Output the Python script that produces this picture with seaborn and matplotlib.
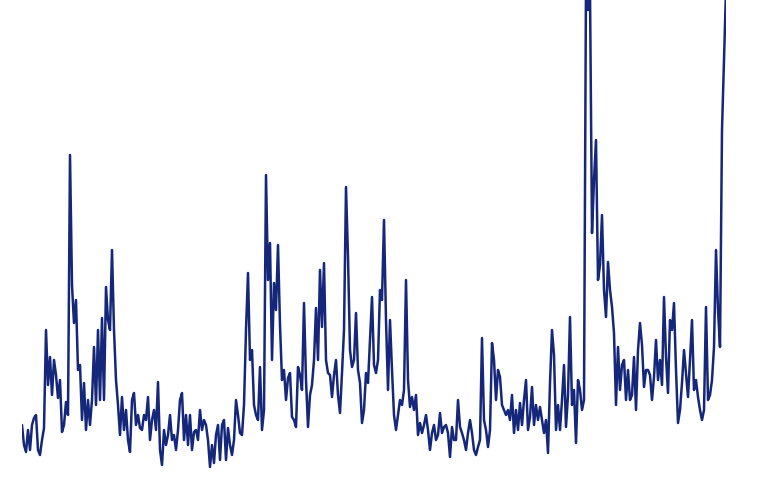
import pandas as pd
import matplotlib
matplotlib.use("Agg")
import matplotlib.pyplot as plt
import seaborn as sns

sns.set_style("white")

# weekly index level left to right
seg1 = [14.2, 12.2, 11.5, 13.7, 11.7, 14.2, 14.9, 15.2, 11.7, 11.2,
        12.7, 13.9, 23.7, 18.2, 21.0, 17.2, 20.7, 19.2, 16.9, 18.7,
        13.5, 14.2, 16.5, 15.2, 41.2, 28.2, 24.4, 26.7, 19.7, 20.2,
        14.7, 18.4, 13.7, 16.7, 14.2, 16.7, 22.0, 16.2, 23.7, 16.7,
        24.9, 16.7, 28.0, 24.7, 23.7, 31.7, 23.7, 18.7, 16.2, 13.2,
        17.0, 13.7, 15.7, 12.7, 11.5, 16.7, 17.4, 14.2, 15.2, 13.9]
seg2 = [13.7, 15.2, 14.7, 17.0, 12.7, 14.7, 15.7, 13.7, 18.5, 11.7,
        10.2, 13.7, 12.2, 13.2, 15.2, 12.7, 13.2, 11.7, 13.7, 16.7,
        17.4, 12.7, 15.2, 12.2, 15.2, 11.7, 13.5, 13.7, 12.7, 15.7,
        13.7, 14.7, 14.2, 12.7, 10.0, 12.2, 10.4, 13.2, 14.2, 10.7,
        14.2, 14.7, 10.7, 13.9, 12.2, 11.2, 12.7, 16.7, 15.2, 13.4,
        13.2, 16.2, 23.7, 29.4, 20.7, 21.7, 16.2]
seg3 = [15.2, 14.7, 20.0, 13.7, 15.7, 39.2, 28.7, 32.4, 20.7, 28.4,
        25.7, 32.2, 24.2, 18.7, 19.7, 16.7, 18.9, 19.4, 15.0, 14.7,
        14.0, 20.0, 19.2, 17.7, 26.4, 18.7, 14.0, 17.2, 18.2, 20.7,
        25.9, 20.7, 29.7, 24.0, 30.4, 20.7, 19.4, 19.2, 17.0, 19.2,
        20.7, 17.2, 15.4, 19.4, 23.7, 38.0, 31.0, 21.7, 20.0, 20.7,
        25.4, 19.7, 18.4, 14.4, 15.7, 19.4, 18.4, 22.7, 27.0, 20.2,
        19.4, 20.7]
seg4 = [27.7, 26.7, 34.7, 24.7, 17.7, 24.7, 19.7, 15.2, 13.7, 15.2,
        16.7, 16.2, 17.7, 28.7, 18.7, 16.0, 17.0, 15.7, 17.2, 13.2,
        14.4, 13.4, 14.2, 15.2, 13.7, 11.7, 13.4, 14.2, 12.7, 13.2,
        15.4, 13.4, 14.0, 14.2, 13.4, 11.0, 14.0, 12.7, 12.7, 16.7,
        14.0, 13.4, 12.7, 11.7, 13.4, 14.7, 13.4, 11.7, 11.2, 12.0,
        12.7, 22.9, 14.7, 13.7, 12.0, 13.7, 22.4, 20.7, 16.7, 19.7,
        19.0]
seg5 = [16.2, 15.7, 15.2, 15.7, 14.7, 17.2, 13.4, 15.7, 13.7, 16.4,
        14.2, 16.7, 18.7, 13.7, 15.0, 18.0, 14.2, 16.2, 14.7, 16.0,
        14.7, 13.4, 14.7, 11.4, 18.4, 23.7, 21.2, 13.7, 16.2, 13.7,
        16.7, 20.2, 14.0, 17.2, 25.0, 16.2, 17.7, 12.4, 18.7, 17.7,
        15.7, 16.7, 58.7, 55.7, 57.7, 33.4, 38.7, 42.7, 28.7, 30.2,
        35.2, 27.7, 25.0, 30.5, 27.7, 26.0, 23.4, 16.2, 22.0, 17.7]
seg6 = [20.2, 20.7, 16.7, 19.7, 16.7, 17.2, 21.0, 15.7, 21.7, 24.4,
        22.2, 18.0, 19.7, 19.7, 19.2, 16.7, 19.0, 22.7, 18.7, 20.7,
        18.2, 27.0, 21.0, 17.4, 24.7, 23.7, 26.4, 19.7, 14.4, 15.7,
        18.4, 21.7, 19.4, 17.0, 20.7, 24.7, 17.7, 18.7, 17.0, 15.7,
        14.7, 15.7, 26.0, 16.7, 17.2, 18.7, 22.0, 31.7, 25.7, 22.0,
        43.7, 50.7, 57.7]

level = seg1 + seg2 + seg3 + seg4 + seg5 + seg6
dates = pd.date_range("2003-01-03", periods=len(level), freq="W-FRI")
df = pd.DataFrame({"date": dates, "level": level})

fig = plt.figure(figsize=(7.67, 4.8), dpi=100)
ax = fig.add_axes([22 / 767, 0, 704 / 767, 1])
sns.lineplot(data=df, x="date", y="level", color="#15277a", linewidth=1.8, ax=ax)
ax.set_xlim(df["date"].iloc[0], df["date"].iloc[-1])
ax.set_ylim(8.7, 56.7)
ax.axis("off")

fig.savefig("out.png", dpi=100)
